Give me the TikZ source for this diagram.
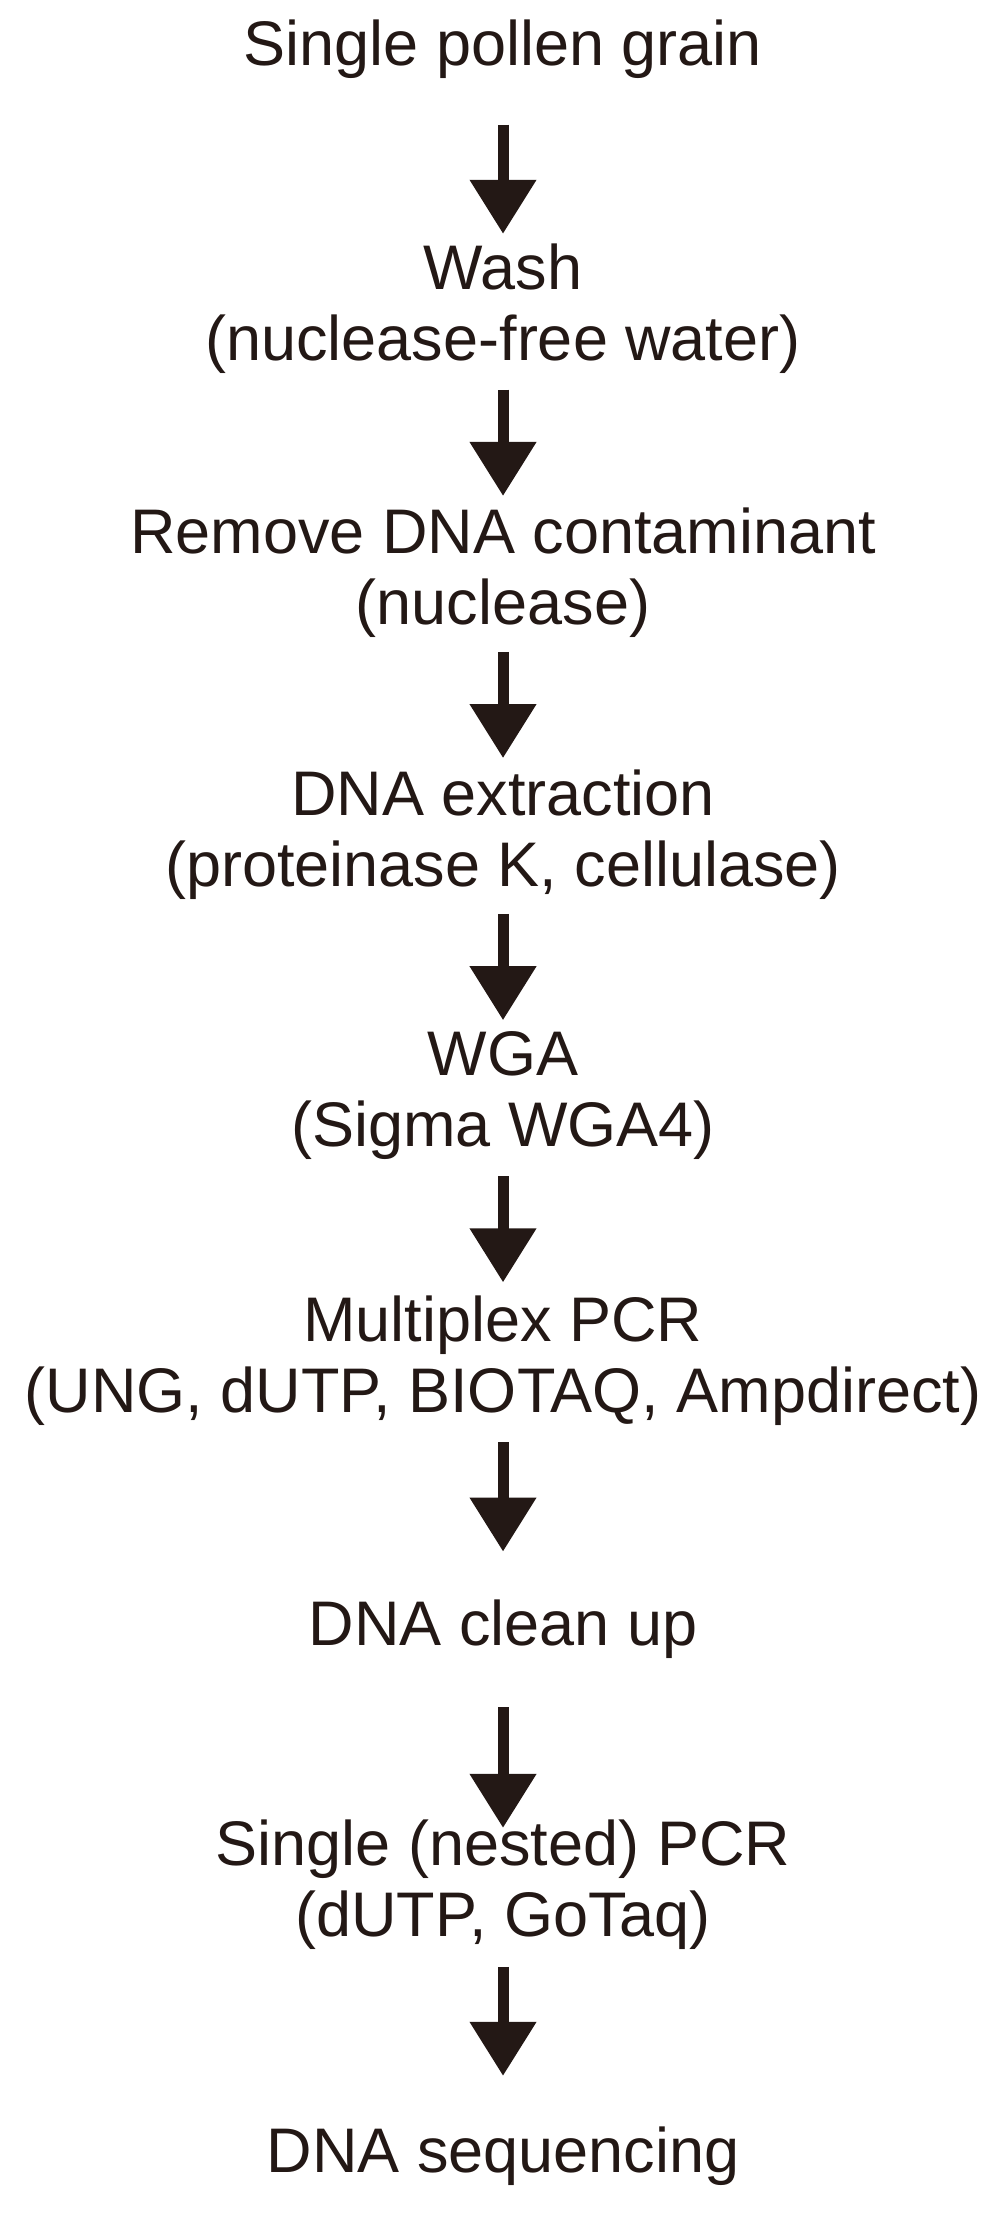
\documentclass[tikz,border=0pt]{standalone}
\usepackage{fontspec}
\setmainfont{Liberation Sans}
\usetikzlibrary{arrows.meta}
\definecolor{ink}{HTML}{231815}
\begin{document}
\begin{tikzpicture}[x=1.417pt,y=-1.417pt,
  t/.style={text=ink,font=\fontsize{63}{71}\selectfont,align=center,anchor=center},
  ar/.style={draw=ink,line width=11pt,-{Triangle[width=64pt,length=54pt]}}]
\useasboundingbox (0,0) rectangle (710,1574.5);
\node[t] (n1) at (355,35) {Single pollen grain};
\node[t] (n2) at (355,218) {Wash\\(nuclease-free water)};
\node[t] (n3) at (355,404) {Remove DNA contaminant\\(nuclease)};
\node[t] (n4) at (355,589) {DNA extraction\\(proteinase K, cellulase)};
\node[t] (n5) at (355,773) {WGA\\(Sigma WGA4)};
\node[t] (n6) at (355,960) {Multiplex PCR\\(UNG, dUTP, BIOTAQ, Ampdirect)};
\node[t] (n7) at (355,1150) {DNA clean up};
\node[t] (n8) at (355,1330) {Single (nested) PCR\\(dUTP, GoTaq)};
\node[t] (n9) at (355,1522) {DNA sequencing};
\foreach \a/\b in {88/165,275/350,460/535,645/720,830/905,1018/1095,1205/1290,1388/1465}
  \draw[ar] (355,\a) -- (355,\b);
\end{tikzpicture}
\end{document}
